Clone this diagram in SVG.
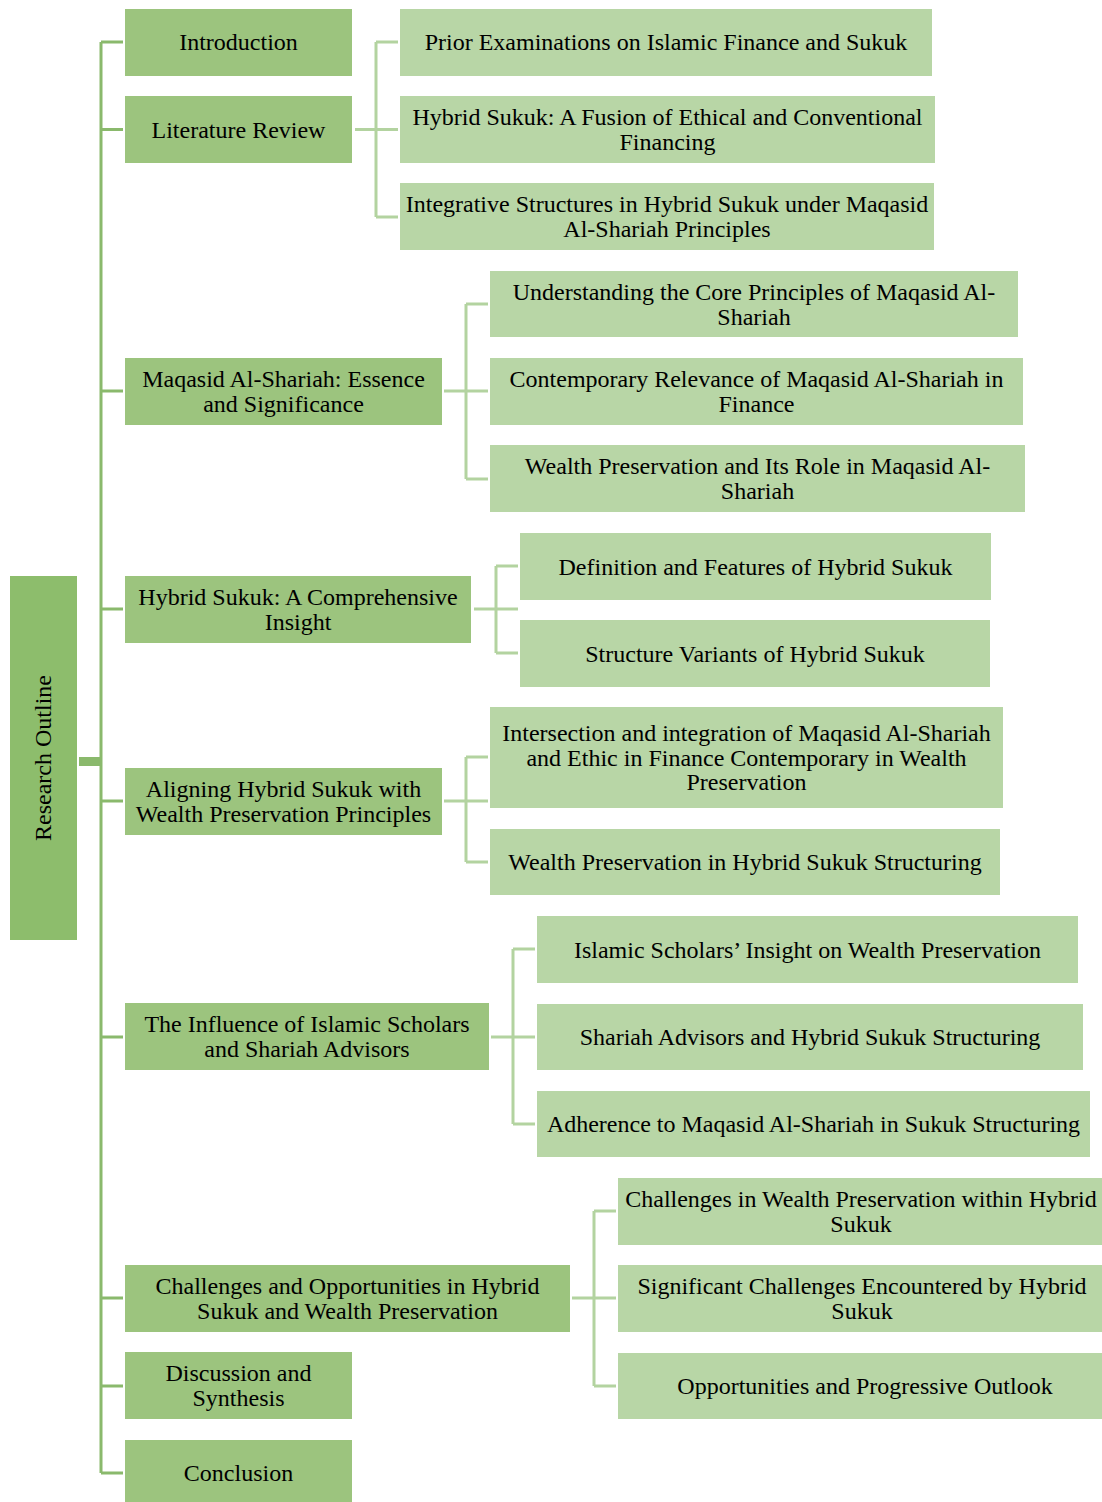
<svg xmlns="http://www.w3.org/2000/svg" width="1102" height="1502" viewBox="0 0 1102 1502">
<style>
.root{fill:#8dbd6c}
.l1{fill:#9cc47e}
.l2{fill:#b8d6a6}
text{font-family:"Liberation Serif","Times New Roman",serif;font-size:24px;fill:#000;text-anchor:middle}
.c1{stroke:#8ab96c;stroke-width:3;fill:none}
.c2{stroke:#b3d3a0;stroke-width:3;fill:none}
</style>
<rect width="1102" height="1502" fill="#fff"/>
<g id="connectors">
<rect x="79" y="757" width="22" height="9" fill="#8ab96c"/>
<path class="c1" d="M101,42V1473M101,42H123M101,129.5H123M101,391H123M101,609H123M101,801H123M101,1037H123M101,1298H123M101,1386H123M101,1473H123"/>
<path class="c2" d="M355,129.5H398M376,42V217M376,42H398M376,217H398"/>
<path class="c2" d="M444,391H488M466,304V479M466,304H488M466,479H488"/>
<path class="c2" d="M474,609H518M496,566V653M496,566H518M496,653H518"/>
<path class="c2" d="M444,801H488M466,757V862M466,757H488M466,862H488"/>
<path class="c2" d="M491,1037H535M513,949V1124M513,949H535M513,1124H535"/>
<path class="c2" d="M572,1298H616M594,1211V1386M594,1211H616M594,1386H616"/>
</g>
<g id="root"><rect class="root" x="10" y="576" width="67" height="364"/><text transform="translate(51,758) rotate(-90)">Research Outline</text></g>
<g id="introduction"><rect class="l1" x="125" y="9" width="227" height="67"/><text x="238.5" y="50">Introduction</text></g>
<g id="literature"><rect class="l1" x="125" y="96" width="227" height="67"/><text x="238.5" y="137.5">Literature Review</text></g>
<g id="maqasid"><rect class="l1" x="125" y="358" width="317" height="67"/><text x="283.5" y="386.5">Maqasid Al-Shariah: Essence</text><text x="283.5" y="411.5">and Significance</text></g>
<g id="hybrid"><rect class="l1" x="125" y="576" width="346" height="67"/><text x="298" y="604.5">Hybrid Sukuk: A Comprehensive</text><text x="298" y="629.5">Insight</text></g>
<g id="aligning"><rect class="l1" x="125" y="768" width="317" height="67"/><text x="283.5" y="796.5">Aligning Hybrid Sukuk with</text><text x="283.5" y="821.5">Wealth Preservation Principles</text></g>
<g id="influence"><rect class="l1" x="125" y="1003" width="364" height="67"/><text x="307" y="1031.5">The Influence of Islamic Scholars</text><text x="307" y="1056.5">and Shariah Advisors</text></g>
<g id="challenges"><rect class="l1" x="125" y="1265" width="445" height="67"/><text x="347.5" y="1293.5">Challenges and Opportunities in Hybrid</text><text x="347.5" y="1318.5">Sukuk and Wealth Preservation</text></g>
<g id="discussion"><rect class="l1" x="125" y="1352" width="227" height="67"/><text x="238.5" y="1380.5">Discussion and</text><text x="238.5" y="1405.5">Synthesis</text></g>
<g id="conclusion"><rect class="l1" x="125" y="1440" width="227" height="62"/><text x="238.5" y="1481">Conclusion</text></g>
<g id="prior"><rect class="l2" x="400" y="9" width="532" height="67"/><text x="666" y="50">Prior Examinations on Islamic Finance and Sukuk</text></g>
<g id="fusion"><rect class="l2" x="400" y="96" width="535" height="67"/><text x="667.5" y="125">Hybrid Sukuk: A Fusion of Ethical and Conventional</text><text x="667.5" y="150">Financing</text></g>
<g id="integrative"><rect class="l2" x="400" y="183" width="534" height="67"/><text x="667" y="212">Integrative Structures in Hybrid Sukuk under Maqasid</text><text x="667" y="237">Al-Shariah Principles</text></g>
<g id="understanding"><rect class="l2" x="490" y="271" width="528" height="66"/><text x="754" y="299.5">Understanding the Core Principles of Maqasid Al-</text><text x="754" y="324.5">Shariah</text></g>
<g id="contemporary"><rect class="l2" x="490" y="358" width="533" height="67"/><text x="756.5" y="386.5">Contemporary Relevance of Maqasid Al-Shariah in</text><text x="756.5" y="411.5">Finance</text></g>
<g id="wealthrole"><rect class="l2" x="490" y="445" width="535" height="67"/><text x="757.5" y="473.5">Wealth Preservation and Its Role in Maqasid Al-</text><text x="757.5" y="498.5">Shariah</text></g>
<g id="definition"><rect class="l2" x="520" y="533" width="471" height="67"/><text x="755.5" y="574.5">Definition and Features of Hybrid Sukuk</text></g>
<g id="structure"><rect class="l2" x="520" y="620" width="470" height="67"/><text x="755" y="661.5">Structure Variants of Hybrid Sukuk</text></g>
<g id="intersection"><rect class="l2" x="490" y="707" width="513" height="101"/><text x="746.5" y="741">Intersection and integration of Maqasid Al-Shariah</text><text x="746.5" y="766">and Ethic in Finance Contemporary in Wealth</text><text x="746.5" y="790">Preservation</text></g>
<g id="wpstructuring"><rect class="l2" x="490" y="829" width="510" height="66"/><text x="745" y="870">Wealth Preservation in Hybrid Sukuk Structuring</text></g>
<g id="scholars"><rect class="l2" x="537" y="916" width="541" height="67"/><text x="807.5" y="957.5">Islamic Scholars’ Insight on Wealth Preservation</text></g>
<g id="advisors"><rect class="l2" x="537" y="1004" width="546" height="66"/><text x="810" y="1045">Shariah Advisors and Hybrid Sukuk Structuring</text></g>
<g id="adherence"><rect class="l2" x="537" y="1091" width="553" height="66"/><text x="813.5" y="1132">Adherence to Maqasid Al-Shariah in Sukuk Structuring</text></g>
<g id="chwealth"><rect class="l2" x="618" y="1178" width="484" height="67"/><text x="861" y="1206.5">Challenges in Wealth Preservation within Hybrid</text><text x="861" y="1231.5">Sukuk</text></g>
<g id="significant"><rect class="l2" x="618" y="1265" width="484" height="67"/><text x="862" y="1293.5">Significant Challenges Encountered by Hybrid</text><text x="862" y="1318.5">Sukuk</text></g>
<g id="opportunities"><rect class="l2" x="618" y="1353" width="484" height="66"/><text x="865" y="1394">Opportunities and Progressive Outlook</text></g>
</svg>
